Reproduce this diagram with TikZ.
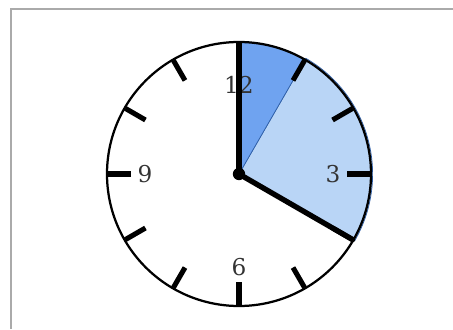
\documentclass[tikz,border=0pt]{standalone}
\usepackage{fontspec}
\setmainfont{DejaVu Serif}
\usetikzlibrary{calc}
\definecolor{segdark}{HTML}{6FA3F0}
\definecolor{seglight}{HTML}{B9D5F6}
\definecolor{segline}{HTML}{2F5FA8}
\definecolor{numcol}{HTML}{333333}
\definecolor{framecol}{HTML}{AAAAAA}
\tikzset{
  face/.style={draw, line width=1.6pt},
  hmark/.style={line width=3.6pt},
  hand/.style={line width=3.8pt, line cap=round},
  num/.style={font=\fontsize{16.5}{18}\selectfont, text=numcol, inner sep=1pt},
  hub/.style={circle, fill=black, inner sep=0pt, minimum size=3.1mm},
  seg/.style={draw=segline, line width=0.5pt}
}
\newcommand{\clockR}{3.3}

\begin{document}
\begin{tikzpicture}
		\useasboundingbox (-5.975,-3.875) rectangle (5.35,4.35);
		\draw[framecol, line width=1.4pt] (5.35,4.125) -- (-5.7,4.125) -- (-5.7,-3.875);
		% shaded sectors
		\fill[seglight, seg] (0,0) -- (60:3.34) arc (60:-30:3.34) -- cycle;
		\fill[segdark, seg] (0,0) -- (90:\clockR) arc (90:60:\clockR) -- cycle;
		\draw[face] (0,0) circle (\clockR);
		\foreach \a in {0,30,...,330}
			\draw[hmark] (\a:2.7) -- (\a:3.28);
		\node[num] (n12) at (90:2.23) {12};
		\node[num] (n3) at (0:2.35) {3};
		\node[num] (n6) at (-90:2.33) {6};
		\node[num] (n9) at (180:2.35) {9};
		\node[hub] (ctr) at (0,0) {};
		\coordinate (mtip) at (90:3.25);
		\coordinate (htip) at (-30:3.28);
		\draw[hand] (ctr.center) -- (mtip);
		\draw[hand] (ctr.center) -- (htip);
	\end{tikzpicture}
\end{document}
